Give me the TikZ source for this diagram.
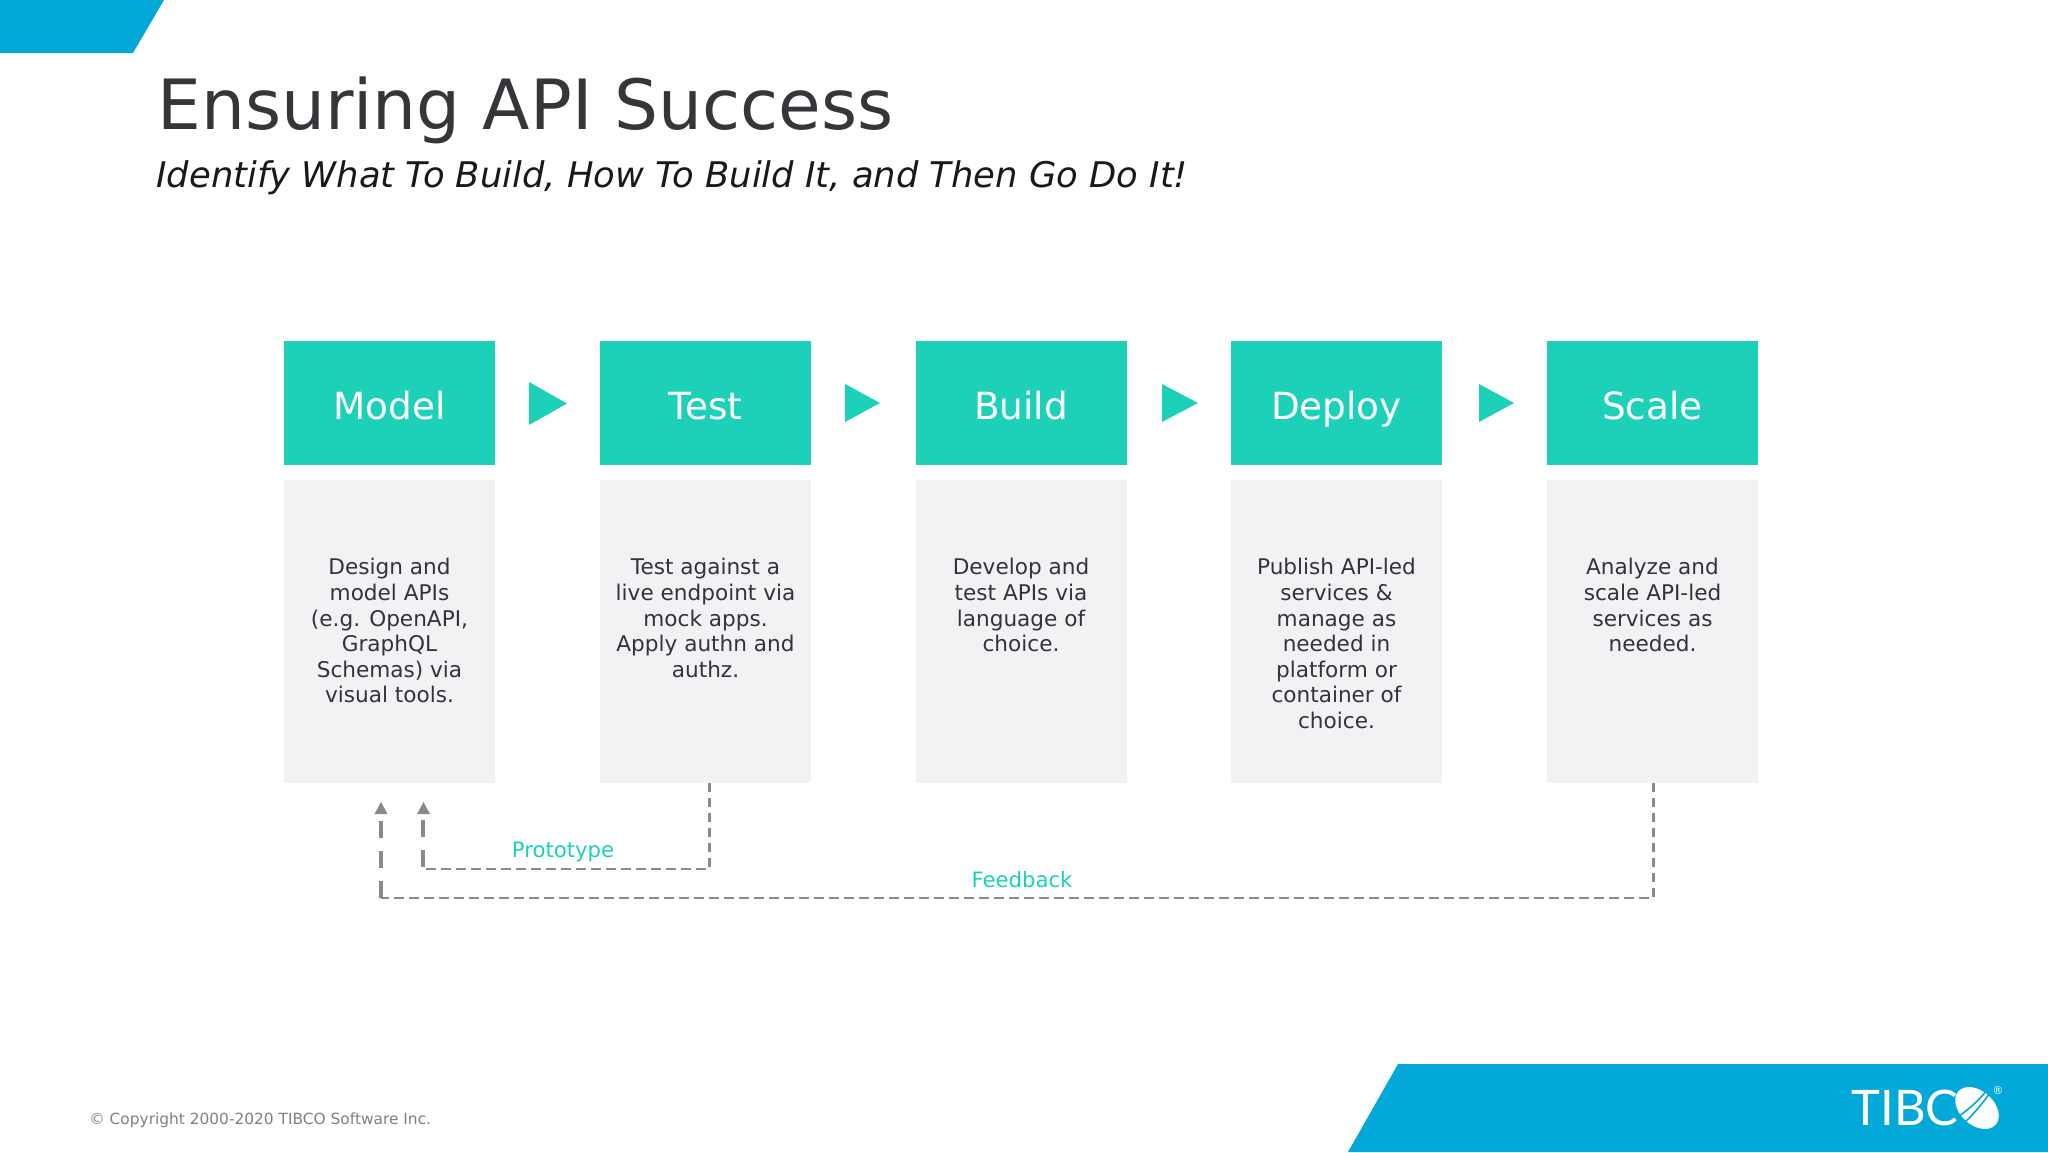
\documentclass[tikz,border=0pt]{standalone}
\usepackage{fontspec}
\setmainfont{DejaVu Sans}
\newfontfamily\logofont{Lato}
\definecolor{teal1}{HTML}{1DD1B9}
\definecolor{panel}{HTML}{F2F1F4}
\definecolor{band}{HTML}{02A8D7}
\definecolor{dashgray}{HTML}{8B898D}
\definecolor{titlec}{HTML}{35353A}
\definecolor{bodyc}{HTML}{333338}
\tikzset{
  head/.style={fill=teal1,text=white,minimum width=105.5pt,minimum height=62pt,inner sep=0pt,text height=16pt,text depth=0pt,font=\fontsize{18.7}{23}\selectfont},
  panelbox/.style={fill=panel,minimum width=105.5pt,minimum height=151.5pt,inner sep=0pt,anchor=north},
  bodytext/.style={text=bodyc,anchor=north,align=center,inner sep=0pt,font=\fontsize{10.8}{12.8}\selectfont},
  tri/.style={fill=teal1},
  loopline/.style={draw=dashgray,line width=1.1pt,dash pattern=on 4.7pt off 2.8pt},
  upline/.style={draw=dashgray,line width=2.1pt,dash pattern=on 8.5pt off 6.5pt},
  looplabel/.style={text=teal1,inner sep=0pt,font=\fontsize{10.6}{12}\selectfont},
  tiphead/.style={fill=dashgray}
}
\begin{document}
\begin{tikzpicture}[x=0.5pt,y=-0.5pt]
\useasboundingbox (0,0) rectangle (2048,1152);
\fill[white] (0,0) rectangle (2048,1152);
\fill[band] (0,0) -- (164,0) -- (133,53) -- (0,53) -- cycle;
\fill[band] (1398,1064) -- (2048,1064) -- (2048,1152) -- (1348,1152) -- cycle;
\node[anchor=base west,inner sep=0pt,text=titlec,font=\fontsize{34.65}{40}\selectfont] (title) at (157,129) {Ensuring API Success};
\node[anchor=base west,inner sep=0pt,text=black!90,font=\fontsize{17.67}{20}\itshape\selectfont] (sub) at (156,187) {Identify What To Build, How To Build It, and Then Go Do It!};
\foreach \nm/\cx/\lb in {m/389.5/Model,t/705.5/Test,b/1021/Build,d/1336.5/Deploy,s/1652.5/Scale}{
  \node[head] (\nm) at (\cx,403) {\lb};
  \node[panelbox] (\nm p) at (\cx,480) {};
}
\node[bodytext] at (389.5,558) {Design and\\model APIs\\(e.g. OpenAPI,\\GraphQL\\Schemas) via\\visual tools.};
\node[bodytext] at (705.5,558) {Test against a\\live endpoint via\\mock apps.\\Apply authn and\\authz.};
\node[bodytext] at (1021,558) {Develop and\\test APIs via\\language of\\choice.};
\node[bodytext] at (1336.5,558) {Publish API-led\\services \&\\manage as\\needed in\\platform or\\container of\\choice.};
\node[bodytext] at (1652.5,558) {Analyze and\\scale API-led\\services as\\needed.};
\fill[tri] (529,382) -- (567,403.5) -- (529,425) -- cycle;
\fill[tri] (845,384) -- (880,403) -- (845,422) -- cycle;
\fill[tri] (1162,384) -- (1198,403) -- (1162,422) -- cycle;
\fill[tri] (1479,384) -- (1514,403) -- (1479,422) -- cycle;
\coordinate (ptstart) at (709.5,783);
\coordinate (ptc1) at (709.5,869);
\coordinate (ptc2) at (423,869);
\coordinate (ptend) at (423,820);
\coordinate (fbstart) at (1653.5,783);
\coordinate (fbc1) at (1653.5,898);
\coordinate (fbc2) at (381,898);
\coordinate (fbend) at (381,820);
\draw[loopline] (ptstart) -- (ptc1) -- (ptc2);
\draw[loopline] (fbstart) -- (fbc1) -- (fbc2);
\draw[upline] (ptc2) ++(0,-2) -- (ptend);
\draw[upline] (fbc2) -- (fbend);
\fill[tiphead] (423.5,802) -- (430,814) -- (417,814) -- cycle;
\fill[tiphead] (381,802) -- (387.5,814) -- (374.5,814) -- cycle;
\node[looplabel] (pl) at (563,852) {Prototype};
\node[looplabel] (fl) at (1022,880) {Feedback};
\node[anchor=base west,inner sep=0pt,text=black!50,font=\fontsize{7.7}{9}\selectfont] (copy) at (89,1124) {© Copyright 2000-2020 TIBCO Software Inc.};
\node[anchor=base west,inner sep=0pt,text=white,font=\logofont\fontsize{24.5}{26}\selectfont] (logo) at (1851,1125) {TIBC};
\fill[white,rotate around={-42:(1977,1108)}] (1977,1108) ellipse [x radius=25,y radius=17];
\draw[band,line width=0.8pt] (1958,1117) .. controls (1970,1108) and (1982,1098) .. (1988,1088);
\draw[band,line width=0.8pt] (1963,1124) .. controls (1976,1112) and (1985,1100) .. (1992,1090);
\node[inner sep=0pt,text=white,font=\fontsize{5.4}{6}\selectfont] (reg) at (1998,1091) {®};
\end{tikzpicture}
\end{document}
